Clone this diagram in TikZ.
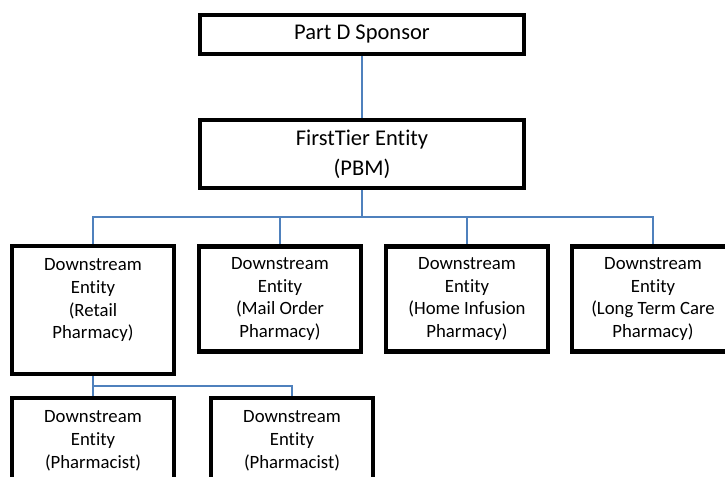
\documentclass[tikz,border=0pt]{standalone}
\usepackage{fontspec}
\setmainfont[Ligatures=NoCommon]{Carlito}
\usepackage{tikz}
\usetikzlibrary{positioning,backgrounds}

\definecolor{linkblue}{RGB}{79,129,189}

\begin{document}
\begin{tikzpicture}[x=0.03cm,y=-0.03cm]
	% --- Lienzo: 1 unidad = 1 px, y hacia abajo ---
	\useasboundingbox (0,0) rectangle (725,477);
	\clip (0,0) rectangle (725,477);
	\tikzset{
		box/.style={draw=black, line width=3.7pt, fill=white, align=center, inner sep=0pt},
		topbox/.style={box, minimum width=9.73cm, font=\fontsize{19.2pt}{25.5pt}\selectfont},
		entbox/.style={box, minimum width=4.86cm, minimum height=3.15cm, font=\fontsize{16pt}{19.6pt}\selectfont},
		link/.style={draw=linkblue, line width=1.2pt}
	}

	% --- Nivel 1 y 2 ---
	\node[topbox, minimum height=1.155cm] (sponsor) at (362,34.5) {Part D Sponsor};
	\node[topbox, minimum height=2.055cm] (pbm) at (362,154) {FirstTier Entity\\(PBM)};

	% --- Entidades downstream ---
	\node[entbox, minimum height=3.84cm] (retail) at (93,310) {Downstream\\Entity\\(Retail\\Pharmacy)\\\mbox{}};
	\node[entbox] (mail) at (280,299) {Downstream\\Entity\\(Mail Order\\Pharmacy)};
	\node[entbox] (infusion) at (467,299) {Downstream\\Entity\\(Home Infusion\\Pharmacy)};
	\node[entbox] (ltc) at (653,299) {Downstream\\Entity\\(Long Term Care\\Pharmacy)};
	\node[entbox] (pharm1) at (93,450.5) {Downstream\\Entity\\(Pharmacist)\\\mbox{}};
	\node[entbox] (pharm2) at (292,450.5) {Downstream\\Entity\\(Pharmacist)\\\mbox{}};

	% --- Conectores (detrás de las cajas) ---
	\coordinate (bus) at (0,217);
	\coordinate (bus2) at (0,386);
	\begin{scope}[on background layer]
		\draw[link] (sponsor.south) -- (sponsor.south |- pbm.north);
		\foreach \n in {retail,mail,infusion,ltc}
			\draw[link] (pbm.south) -- (pbm.south |- bus) -| (\n.north);
		\draw[link] (retail.south) -- (pharm1.north);
		\draw[link] (retail.south) -- (retail.south |- bus2) -| (pharm2.north);
	\end{scope}
\end{tikzpicture}
\end{document}
